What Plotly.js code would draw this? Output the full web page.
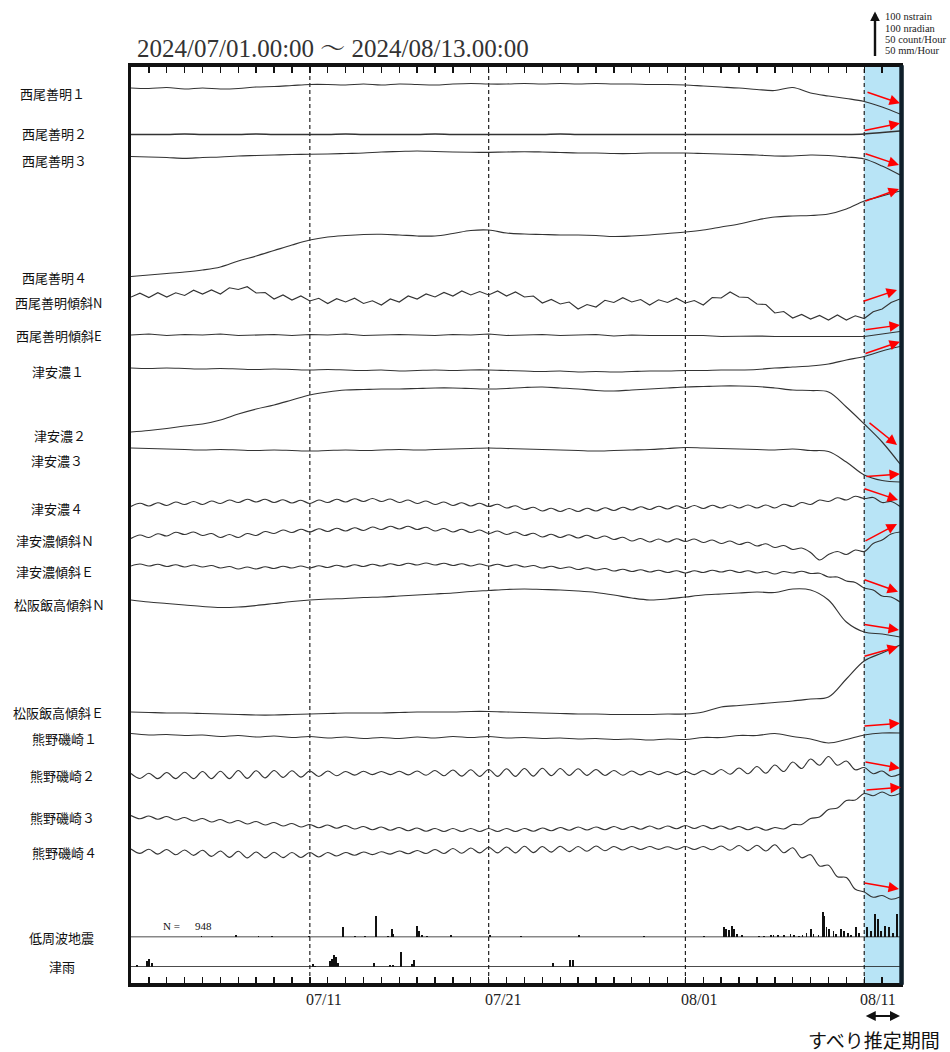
<!DOCTYPE html>
<html><head><meta charset="utf-8">
<script src="https://cdn.plot.ly/plotly-3.0.1.min.js"></script>
<style>html,body{margin:0;padding:0;background:#fff;}#chart{width:950px;height:1052px;}</style>
</head><body><div id="chart"></div>
<script>
// ---------------- DATA ----------------
// sampling grids (days since 2024/07/01 00:00)
const dayGrid = Array.from({length: 44}, (_, i) => i);
const halfGrid = Array.from({length: 87}, (_, i) => i / 2);

const seriesNames = ['西尾善明１','西尾善明２','西尾善明３','西尾善明４','西尾善明傾斜N','西尾善明傾斜E',
  '津安濃１','津安濃２','津安濃３','津安濃４','津安濃傾斜Ｎ','津安濃傾斜Ｅ','松阪飯高傾斜Ｎ','松阪飯高傾斜Ｅ',
  '熊野磯崎１','熊野磯崎２','熊野磯崎３','熊野磯崎４'];

// relative change (nstrain / nradian), positive = up
const nishio1 = [0,-1,1,-2,0,-2,-1,2,3,5, 7,7,6,8,6,8,7,6,8,9, 8,8,9,8,9,8,9,8,8,7, 7,6,4,2,0,-3,-5,1,-10,-16, -21,-27,-38,-52];
const nishio2 = [0,0,0,1,0,0,0,1,0,0, 0,0,1,0,0,0,0,1,0,0, 0,0,0,0,1,0,0,0,0,0, 0,0,0,0,0,0,0,0,0,0, 0,1,4,7];
const nishio3 = [0,-1,-2,-3.6,-2,-1,1,2,3,4, 4.4,5,6,7,9,10,11,10,9,8.4, 8.4,9,9.6,9,8,7,7,6,6,7, 7,7,6,5,4,3,1,1,3,2, -1,-5,-19,-37];
const nishio4 = [0,3,6,9,13,19,31,41,52,63, 73,79,82,84,84.4,83,81,81,86,92, 93,87,85,84,83,83,82,80,81,83, 86,89,93,99,105,113,119,121,122,125, 135,151,161,171];
const nishioTiltN = [0,7.5,-1,8.5,0,8.5,3,13.5,6,14, 6,18.5,15,20.5,8,9,-4,4,-6,2, -8,-2.5,-13,-3.5,-10,-2.5,-13,-7.5,-16,-4, -10,2,-4,6,0,9,2,12,4,11, 4,12,2,10,0,2,-12,-5,-14,-10, -24,-15,-20,-6.5,-11,-1.5,-10,-5,-16,-5.5, -11,-2.5,-12,-7,-16,-1,-2,10,0,-1, -14,-15,-32,-29,-42,-35,-44,-37,-46,-36, -46,-37.5,-43,-29.5,-24,-11,-4];
const nishioTiltE = [0,2,-1,1,0,2,-1,0,1,-1, 1,0,2,-1,0,1,0,-1,1,0, 2,-1,0,1,-1,0,1,-2,0,-1, -1,-2,-1,-3,-2,-2,-3,-3,-2,-3, -3,-3,2,7];
const tsu1 = [0,-1,0,-1,-2,-1,-2,-3,-2,-3, -4,-3,-4,-5,-4,-6,-5,-4,-5,-4, -4,-5,-6,-7,-6,-8,-7,-8,-7,-6, -6,-5,-5,-4,-4,-3,0,2,4,8, 16,23,34,43];
const tsu2 = [0,3,7,12,16,24,36,46,54,64, 74,80,84,85,86,86,87,88,88,87, 86,87,89,90,88,86,83,82,84,86, 88,90,91,92,92,91,88,84,83,80, 50,16,-20,-64];
const tsu3 = [0,-1,-2,-3,-4,-3,-4,-5,-4,-5, -6,-5,-4,-5,-4,-3,-4,-3,-2,-1, 0,-1,-2,-3,-4,-5,-6,-5,-4,-3, -1,1,0,-1,-2,-3,-4,-2,-5,-7, -28,-54,-65,-68];
const tsu4 = [-3,3.5,-2,4.5,-1,6,1,7,1,8, 3,10,5,11.5,6,11.5,5,10.5,4,9.5, 3,10,5,11.5,6,12.5,7,13,7,12, 5,10,3,8,1,6,-1,4.5,-2,3.5, -3,1.5,-6,-1.5,-9,-4.5,-12,-6.5,-13,-7, -13,-6.5,-12,-5.5,-11,-4.5,-10,-3.5,-9,-2.5, -8,-1.5,-7,-1,-7,-0.5,-6,0,-6,0, -6,0,-6,1.5,-3,5,1,10,7,14.5, 10,17.5,13,15,5,7,-3];
const tsuTiltN = [-3,4,-1,6.5,2,9.5,5,10,3,7, -1,5,-1,7,3,11,7,14,9,15.5, 10,16.5,11,17.5,12,18.5,13,20,15,21.5, 16,21.5,15,19.5,12,17,10,15.5,9,14, 7,12,5,10,3,7.5,0,5.5,-1,4.5, -2,3.5,-3,2,-5,-0.5,-8,-3,-10,-4, -10,-3.5,-9,-4,-11,-6,-13,-8,-15,-10.5, -18,-13.5,-21,-17,-25,-22,-31,-46,-35,-29, -35,-26,-29,-13,-6,6,10];
const tsuTiltE = [-2,2,-2,1.5,-3,0.5,-4,0,-4,-1, -6,-3,-8,-4,-8,-3.5,-7,-2.5,-6,-2, -6,-1.5,-5,-0.5,-4,0.5,-3,1.5,-2,2.5, -1,3.5,0,4,0,3.5,-1,2.5,-2,2, -2,1.5,-3,0.5,-4,-1,-6,-2.5,-7,-4, -9,-5.5,-10,-7,-12,-8.5,-13,-9.5,-14,-10.5, -15,-11.5,-16,-11.5,-15,-10.5,-14,-10.5,-15,-11.5, -16,-13,-18,-13,-16,-12.5,-17,-16.5,-24,-24, -32,-35,-46,-50,-62,-64,-74];
const matsusakaN = [0,-4,-7,-10,-13,-15,-14,-11,-7,-3, 0,2,3,5,6,8,10,12,14,17, 19,21,22,21,20,18,15,10,4,0, 2,6,10,12,14,16,15,22,20,0, -44,-64,-68,-74];
const matsusakaE = [0,-1,-2,-2,-3,-4,-5,-6,-6,-5, -4,-3,-2,-2,-2,-1,0,0,0,1, 1,0,-1,-2,-3,-4,-4,-5,-5,-5, -4,-4,0,10,13,16,19,22,26,30, 66,102,118,134];
const kumano1 = [1,-2,-1,-3,-2,-5,-3,-6,-4,-7, -5,-8,-6,-9,-7,-9,-6,-8,-5,-7, -5,-8,-7,-9,-8,-10,-9,-11,-10,-12, -10,-11,-7,-7,-3,-3,1,-5,-10,-18, -11,-2,2,2];
const kumano2 = [5,-5,5.5,-5.25,7,-5.25,7.5,-5.25,9,-5.25, 9.5,-5.25,11,-4.75,10.5,-3.75,11,-2.75,10.5,-2.25, 10,-1,10,0.5,9,1.75,9.5,2.75,9,2.75, 9.5,2.25,10,1.5,11,0.5,12,-0.25,12.5,-0.75, 13,-0.75,14.5,-0.75,15,-0.25,15.5,0.75,15,1.25, 14.5,1.25,13,1,11,1.5,10,2.25,9.5,2.75, 9,2.75,9.5,2.75,11,3,13,3.5,16,4.5, 19,5.5,22,9,28,15,34,21.5,39,21.5, 30,12.5,17,4.5,10,-1,4];
const kumano3 = [3,-3.5,2,-4.5,1,-6,-1,-8,-3,-10, -5,-12,-7,-14,-9,-16,-11,-18,-13,-20, -15,-21.5,-16,-22.5,-17,-24,-19,-25.5,-20,-26.5, -21,-27.5,-22,-28.5,-23,-29,-23,-29,-23,-29, -23,-29,-23,-29,-23,-28.5,-22,-27.5,-21,-26.5, -20,-26,-20,-25.5,-19,-25,-19,-24.5,-18,-24, -18,-23.5,-17,-23,-17,-23.5,-18,-24.5,-19,-25.5, -20,-26.5,-21,-24,-15,-15,-3,0,15,18, 33,34,47,42.5,50,42.5,47];
const kumano4 = [4,-4.75,3.5,-6.25,3,-7.5,2,-8.75,1.5,-10.75, 0,-12.75,-0.5,-13.75,-2,-13.75,-2.5,-13.25,-3,-13, -3,-12,-3,-10,-3,-8.5,-2,-7.25,-1.5,-6.25, 0,-5.5,1,-5,3,-5,5,-4.5,6,-3.75, 7.5,-3.75,8,-3.75,9.5,-3.25,9,-2.25,9.5,-1.25, 9,-0.5,10,0.5,9,2,9,3,9,3.25, 8.5,3.25,9,3,9,2.5,10,1.5,11,0.75, 11.5,0,12.5,-3.5,6.5,-13.5,-7.5,-30,-28.5,-51.25, -53,-76.5,-82,-92.5,-89,-96.5,-92];

// low-frequency earthquakes (count/hour) and Tsu rainfall (mm/hour)
const lfeDays = [3.94,5.89,7.13,7.89,9.97,11.85,12.53,13.09,13.69,14.37,14.58,14.65,16.0,16.1,16.25,16.53,17.87,20.06,21.82,25.03,28.69,32.03,33.15,33.26,33.43,33.6,33.7,33.87,34.15,35.1,35.38,35.77,35.93,36.2,36.49,36.88,37.05,37.33,37.55,37.77,38.0,38.16,38.44,38.68,38.77,38.89,39.05,39.28,39.44,39.72,39.89,40.1,40.28,40.56,40.72,41.17,41.39,41.62,41.78,41.95,42.17,42.4,42.62,42.81];
const lfeCounts = [1,2,1,1,1,11,1,1,24,1,9,4,12,7,2,1,2,2,1,2,1,1,11,9,8,12,9,4,3,1,1,2,3,3,2,4,3,1,3,5,9,4,2,28,24,11,9,7,4,9,7,5,3,11,5,11,7,26,20,7,13,11,5,26];
const lfeTotal = 948;
const rainDays = [0.33,0.89,1.02,1.15,10.18,10.31,11.14,11.25,11.36,11.48,11.59,13.61,14.48,14.64,15.08,15.69,15.82,23.58,24.55,24.7];
const rainMm = [2,6,9,4,3,1,6,9,13,11,4,4,2,2,16,3,8,4,7,7];

const tickDates = ['2024-07-11','2024-07-21','2024-08-01','2024-08-11'];
const tickLabels = ['07/11','07/21','08/01','08/11'];
const scaleTexts = ['100 nstrain','100 nradian','50 count/Hour','50 mm/Hour'];

// ---------------- LAYOUT CONFIG (positions / styles) ----------------
const W = 950, H = 1052, ML = 131, MR = 50, MT = 67, MB = 69;
const PW = W - ML - MR, PH = H - MT - MB;
const pxPerDay = PW / 43;
const seriesData = [nishio1,nishio2,nishio3,nishio4,nishioTiltN,nishioTiltE,tsu1,tsu2,tsu3,tsu4,tsuTiltN,tsuTiltE,matsusakaN,matsusakaE,kumano1,kumano2,kumano3,kumano4];
const seriesGrid = ['d','d','d','d','h','d','d','d','d','h','h','h','d','d','d','h','h','h'];
const seriesShape = ['spline','spline','spline','spline','linear','linear','spline','spline','spline','spline','spline','spline','spline','spline','spline','spline','spline','spline'];
const offsets = [-42,-135,-179,-419,-460,-536,-602,-730,-762,-876,-940,-996,-1066,-1290,-1334,-1418,-1500,-1568];
const labelPos = [[52.5,93],[54.3,134],[54.5,161],[54.6,277],[58,302.5],[59,335.5],[57.5,371.5],[60,435],[57,460],[57,508],[55,540],[55,571],[59.3,604],[58.3,713],[64,739],[62.5,775],[62.5,817],[64,852.5]];
const panelLabels = [['低周波地震',61,937.3],['津雨',61.7,966.7]];
const arrowsPx = [[866,91.7,900,103.3],[863,130.7,900,123.3],[864,153.3,899,165],[864,201.7,899,189],[862,301.7,897,290],[864,330,900,325],[864,354,900,341.7],[868,421.7,897,445],[865,476.7,900,474],[863,488.3,898,500],[864,541.7,897,524],[863,579.3,898,591.7],[863,624.3,899,630],[863,656.7,898,646.7],[863,726,900,723.3],[864,761.7,900,768.3],[865,790,901,787.3],[863,882.7,899,889]];

const START = Date.UTC(2024, 6, 1);
function dateOf(d) { return new Date(START + d * 86400000).toISOString().slice(0, 19).replace('T', ' '); }
const px2x = px => dateOf((px - ML) / pxPerDay);
const px2y = py => -(py - MT) * 2;
const pxX = px => (px - ML) / PW;
const pxY = py => (H - MB - py) / PH;

const serif = 'Liberation Serif, Times New Roman, serif';
const cjk = 'Noto Sans CJK JP, sans-serif';

const traces = seriesData.map((vals, i) => {
  const g = seriesGrid[i] === 'd' ? dayGrid : halfGrid;
  const line = {color: '#333', width: (i === 1 ? 1.5 : 1.15), shape: seriesShape[i]};
  if (seriesShape[i] === 'spline') line.smoothing = 1;
  return {type: 'scatter', mode: 'lines', name: seriesNames[i], x: g.map(dateOf), y: vals.map(v => offsets[i] + v), line, hoverinfo: 'skip'};
});
traces.push({type: 'bar', name: '低周波地震', x: lfeDays.map(dateOf), y: lfeCounts, yaxis: 'y2', width: 2.5 * 3600e3, marker: {color: '#111', line: {width: 0}}, hoverinfo: 'skip'});
traces.push({type: 'bar', name: '津雨', x: rainDays.map(dateOf), y: rainMm, yaxis: 'y3', width: 2.5 * 3600e3, marker: {color: '#111', line: {width: 0}}, hoverinfo: 'skip'});

const shapes = [
  {type: 'rect', xref: 'x', yref: 'paper', x0: '2024-08-11', x1: '2024-08-13', y0: 0, y1: 1, fillcolor: '#b8e4f6', line: {width: 0}, layer: 'below'},
  ...tickDates.map(d => ({type: 'line', xref: 'x', yref: 'paper', x0: d, x1: d, y0: 0, y1: 1, line: {color: '#222', width: 1.2, dash: '4px,3px'}, layer: 'below'})),
  {type: 'line', xref: 'paper', yref: 'y2', x0: 0, x1: 1, y0: 0, y1: 0, line: {color: '#111', width: 1.5}},
  {type: 'line', xref: 'paper', yref: 'y3', x0: 0, x1: 1, y0: 0, y1: 0, line: {color: '#111', width: 1.5}},
  {type: 'line', xref: 'paper', yref: 'paper', x0: 1.002, x1: 1.002, y0: -0.002, y1: 1.002, line: {color: '#0f1f2a', width: 4.5}}
];

const annotations = [];
annotations.push({xref: 'paper', yref: 'paper', x: pxX(135), y: pxY(48), xanchor: 'left', yanchor: 'middle', showarrow: false,
  text: '2024/07/01.00:00 〜 2024/08/13.00:00', font: {family: serif + ', Noto Serif CJK JP', size: 25, color: '#333'}});
seriesNames.forEach((n, i) => annotations.push({xref: 'paper', yref: 'paper', x: pxX(labelPos[i][0]), y: pxY(labelPos[i][1]),
  xanchor: 'center', yanchor: 'middle', showarrow: false, text: n, font: {family: cjk, size: 13, color: '#111'}}));
panelLabels.forEach(p => annotations.push({xref: 'paper', yref: 'paper', x: pxX(p[1]), y: pxY(p[2]), xanchor: 'center', yanchor: 'middle',
  showarrow: false, text: p[0], font: {family: cjk, size: 13, color: '#111'}}));
tickDates.forEach((d, i) => annotations.push({xref: 'x', yref: 'paper', x: d, xshift: 14, y: pxY(999), xanchor: 'center', yanchor: 'middle',
  showarrow: false, text: tickLabels[i], font: {family: serif, size: 16, color: '#222'}}));
arrowsPx.forEach(a => annotations.push({xref: 'x', yref: 'y', axref: 'x', ayref: 'y', x: px2x(a[2]), y: px2y(a[3]), ax: px2x(a[0]), ay: px2y(a[1]),
  text: '', showarrow: true, arrowhead: 2, arrowsize: 1.4, arrowwidth: 1.5, arrowcolor: '#ff0000', standoff: 0, startstandoff: 0}));
annotations.push({xref: 'paper', yref: 'paper', x: pxX(161), y: pxY(926), xanchor: 'left', yanchor: 'middle', showarrow: false, text: 'N =', font: {family: serif, size: 11, color: '#111'}});
annotations.push({xref: 'paper', yref: 'paper', x: pxX(193), y: pxY(926), xanchor: 'left', yanchor: 'middle', showarrow: false, text: String(lfeTotal), font: {family: serif, size: 11, color: '#111'}});
// scale legend
annotations.push({xref: 'paper', yref: 'paper', x: pxX(875), y: pxY(11.5), ax: 0, ay: 46, text: '', showarrow: true, arrowhead: 2, arrowsize: 0.8, arrowwidth: 2.4, arrowcolor: '#111', standoff: 0});
scaleTexts.forEach((t, i) => annotations.push({xref: 'paper', yref: 'paper', x: pxX(883), y: pxY([16.5, 28, 39.5, 51][i]), xanchor: 'left', yanchor: 'middle',
  showarrow: false, text: t, font: {family: serif, size: 10.5, color: '#222'}}));
// slip period
annotations.push({xref: 'x', yref: 'paper', axref: 'x', x: '2024-08-13', ax: '2024-08-11', y: pxY(1016), ay: 0, text: '', showarrow: true,
  arrowside: 'end+start', arrowhead: 2, arrowsize: 1, arrowwidth: 2, arrowcolor: '#111', standoff: 0, startstandoff: 0});
annotations.push({xref: 'paper', yref: 'paper', x: pxX(874), y: pxY(1039), xanchor: 'center', yanchor: 'middle', showarrow: false,
  text: 'すべり推定期間', font: {family: cjk, size: 19, color: '#111'}});

const layout = {
  width: W, height: H, margin: {l: ML, r: MR, t: MT, b: MB},
  paper_bgcolor: '#fff', plot_bgcolor: 'rgba(0,0,0,0)', showlegend: false, bargap: 0,
  xaxis: {type: 'date', range: ['2024-07-01', '2024-08-13'], showgrid: false, zeroline: false, showticklabels: false,
    ticks: 'inside', ticklen: 6, tickwidth: 1.4, tickcolor: '#111', dtick: 86400000, tick0: '2024-07-01',
    showline: true, linewidth: 4, linecolor: '#111', mirror: 'ticks', anchor: 'y'},
  yaxis: {range: [-PH * 2, 0], showgrid: false, zeroline: false, showticklabels: false, ticks: '',
    showline: true, linewidth: 3, linecolor: '#111', mirror: true},
  yaxis2: {domain: [pxY(937.3), pxY(937.3) + 40 / PH], range: [0, 40 / 0.9], anchor: 'x', visible: false},
  yaxis3: {domain: [pxY(966.7), pxY(966.7) + 25 / PH], range: [0, 25 / 0.9], anchor: 'x', visible: false},
  shapes, annotations
};

Plotly.newPlot('chart', traces, layout, {staticPlot: true, displayModeBar: false});
</script></body></html>
